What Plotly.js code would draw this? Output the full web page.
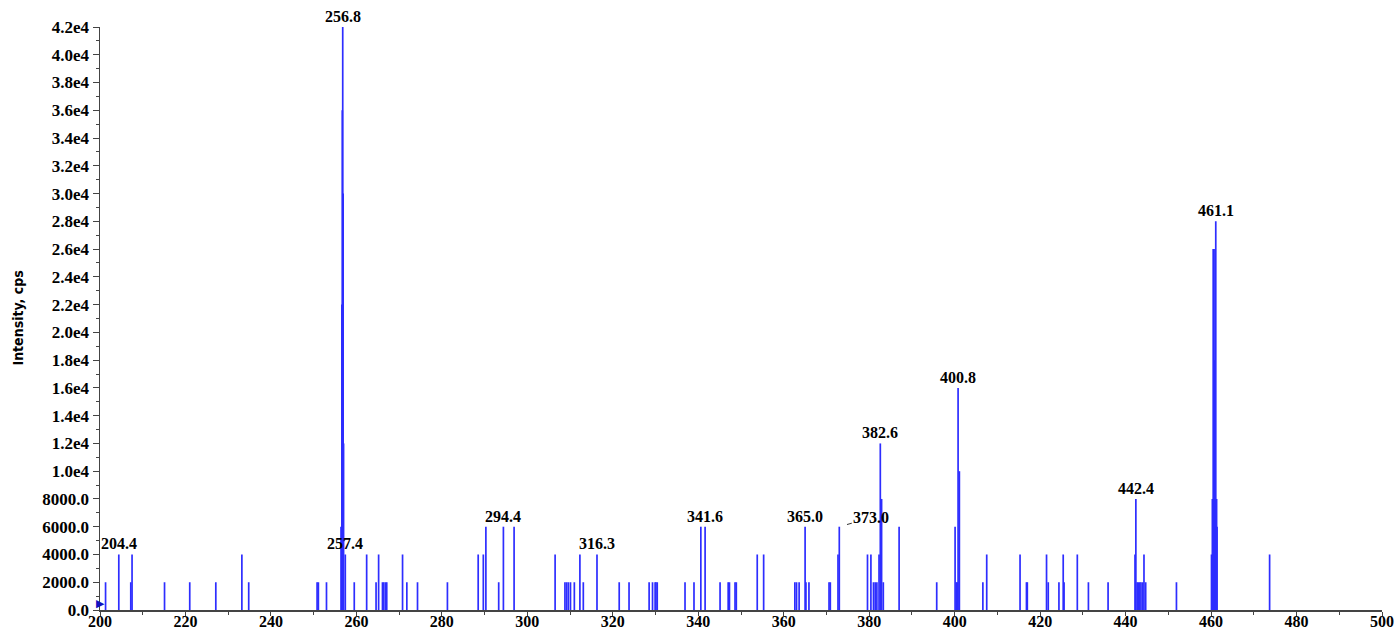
<!DOCTYPE html>
<html>
<head>
<meta charset="utf-8">
<script src="https://cdn.plot.ly/plotly-3.0.1.min.js"></script>
<style>html,body{margin:0;padding:0;background:#fff;}#chart{width:1396px;height:633px;}</style>
</head>
<body>
<div id="chart"></div>
<script>
// m/z values of the spectrum sticks
const mz = [201.3,204.4,207.2,207.5,215.1,221.0,227.1,233.2,234.8,250.8,251.1,253.0,
  256.4,256.6,256.7,256.8,256.9,257.0,257.4,259.5,262.4,264.6,265.2,266.1,266.4,266.8,267.1,
  270.8,271.8,274.3,281.3,288.5,289.7,290.3,293.3,294.4,296.9,306.5,308.8,309.2,309.6,310.1,
  311.0,312.3,313.1,316.3,321.5,323.8,328.5,329.3,329.9,330.1,330.4,336.9,339.0,340.6,341.6,
  345.1,347.0,347.3,348.6,348.9,353.8,355.3,362.6,363.0,363.6,365.0,365.2,365.9,370.6,370.9,
  372.7,373.0,379.6,380.4,381.0,381.4,381.8,382.3,382.6,382.9,383.3,387.0,395.8,400.1,400.4,
  400.6,400.8,401.1,406.6,407.5,415.3,416.8,417.0,421.5,421.9,424.4,425.4,425.6,428.7,431.3,
  435.9,442.2,442.4,442.7,443.0,443.3,443.6,444.0,444.3,444.7,451.9,460.1,460.3,460.5,460.7,
  460.9,461.1,461.3,461.4,473.7];
// intensities (cps)
const intensity = [2000,4000,2000,4000,2000,2000,2000,4000,2000,2000,2000,2000,
  6000,22000,36000,42000,30000,12000,4000,2000,4000,2000,4000,2000,2000,2000,2000,
  4000,2000,2000,2000,4000,4000,6000,2000,6000,6000,4000,2000,2000,2000,2000,
  2000,4000,2000,4000,2000,2000,2000,2000,2000,2000,2000,2000,2000,6000,6000,
  2000,2000,2000,2000,2000,4000,4000,2000,2000,2000,6000,2000,2000,2000,2000,
  4000,6000,4000,4000,2000,2000,2000,4000,12000,8000,2000,6000,2000,6000,2000,
  2000,16000,10000,2000,4000,4000,2000,2000,4000,2000,2000,4000,2000,4000,2000,
  2000,4000,8000,2000,2000,2000,2000,2000,4000,2000,2000,4000,8000,26000,26000,
  18000,28000,8000,6000,4000];
// labelled peaks
const labelMz = [204.4,256.8,257.4,294.4,316.3,341.6,365.0,382.6,400.8,442.4,461.1];
const labelInt = [4000,42000,4000,6000,4000,6000,6000,12000,16000,8000,28000];
const leaderMz = 373.0, leaderInt = 6000;
// y tick labels
const yTickVals = [0,2000,4000,6000,8000,10000,12000,14000,16000,18000,20000,22000,24000,26000,28000,30000,32000,34000,36000,38000,40000,42000];
const yTickText = ["0.0","2000.0","4000.0","6000.0","8000.0","1.0e4","1.2e4","1.4e4","1.6e4","1.8e4","2.0e4","2.2e4","2.4e4","2.6e4","2.8e4","3.0e4","3.2e4","3.4e4","3.6e4","3.8e4","4.0e4","4.2e4"];
const yTitle = "Intensity, cps";

const xs = [], ys = [];
for (let i = 0; i < mz.length; i++) { xs.push(mz[i], mz[i], null); ys.push(0, intensity[i], null); }

const serif = '"Liberation Serif","Times New Roman",serif';
const annotations = labelMz.map((m, i) => ({
  x: m, y: labelInt[i], xref: 'x', yref: 'y', text: m.toFixed(1),
  showarrow: false, yanchor: 'bottom', xanchor: 'center', yshift: 0,
  font: {family: serif, size: 16, color: '#000', weight: 'bold'}
}));
annotations.push({
  x: leaderMz, y: leaderInt, xref: 'x', yref: 'y', text: leaderMz.toFixed(1),
  showarrow: true, arrowhead: 0, arrowwidth: 1, arrowcolor: '#333', standoff: 8,
  ax: 32, ay: -9, font: {family: serif, size: 16, color: '#000', weight: 'bold'}
});
annotations.push({
  x: -0.0647, y: 0.5, xref: 'paper', yref: 'paper', text: yTitle, textangle: -90,
  showarrow: false, xanchor: 'center', yanchor: 'middle',
  font: {family: '"Liberation Sans Narrow","DejaVu Sans Condensed",sans-serif', size: 14, color: '#000', weight: 'bold'}
});
annotations.push({
  x: 0, y: 450, xref: 'paper', yref: 'y', text: '▶', showarrow: false,
  xanchor: 'center', yanchor: 'middle', font: {family: 'DejaVu Sans', size: 11, color: '#1010c0'}
});

const trace = {
  type: 'scatter', mode: 'lines', x: xs, y: ys, connectgaps: false,
  line: {color: 'rgb(45,45,255)', width: 1.7}, hoverinfo: 'skip'
};

const layout = {
  width: 1396, height: 633,
  margin: {l: 100, r: 14, t: 27, b: 23},
  paper_bgcolor: '#fff', plot_bgcolor: '#fff',
  showlegend: false,
  xaxis: {
    range: [200, 500], tick0: 200, dtick: 20, showgrid: false, zeroline: false,
    showline: true, linecolor: '#444', linewidth: 1.5, ticks: 'outside', ticklen: 4, tickcolor: '#444',
    ticklabelstandoff: -8,
    minor: {dtick: 10, ticks: 'outside', ticklen: 3, tickcolor: '#444', showgrid: false},
    tickfont: {family: serif, size: 16, color: '#000', weight: 'bold'}
  },
  yaxis: {
    range: [0, 42000], tickvals: yTickVals, ticktext: yTickText, showgrid: false, zeroline: false,
    showline: true, linecolor: '#444', linewidth: 1.5, ticks: 'outside', ticklen: 6, tickcolor: '#444',
    minor: {dtick: 1000, ticks: 'outside', ticklen: 3, tickcolor: '#444', showgrid: false},
    tickfont: {family: serif, size: 17, color: '#000', weight: 'bold'}
  },
  annotations: annotations
};

Plotly.newPlot('chart', [trace], layout, {staticPlot: true, displayModeBar: false});
</script>
</body>
</html>
